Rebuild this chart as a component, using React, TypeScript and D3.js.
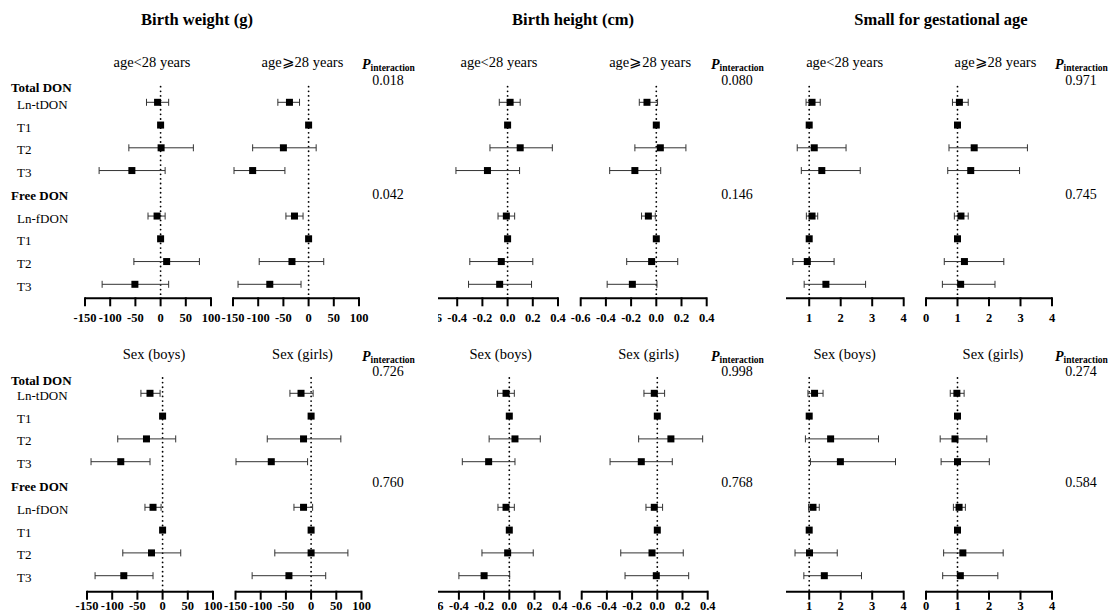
import React from "react";
import { scaleLinear } from "d3";

// rows of each panel (T1 is the reference category, no CI)
const rowLabels = ["Ln-tDON", "T1", "T2", "T3", "Ln-fDON", "T1", "T2", "T3"];
const rowSlots = [0, 1, 2, 3, 5, 6, 7, 8];

// [estimate, lower, upper]
const bwAgeYoung = [[-6, -28, 16], [0], [1, -63, 65], [-57, -122, 9], [-7, -25, 9], [0], [12, -53, 77], [-51, -116, 16]];
const bwAgeOld = [[-38, -61, -18], [0], [-50, -111, 15], [-111, -148, -47], [-28, -45, -11], [0], [-33, -98, 30], [-77, -140, -15]];
const bhAgeYoung = [[0.02, -0.066, 0.1], [0], [0.1, -0.14, 0.355], [-0.16, -0.41, 0.095], [-0.01, -0.076, 0.056], [0], [-0.05, -0.3, 0.2], [-0.063, -0.31, 0.19]];
const bhAgeOld = [[-0.074, -0.135, 0.01], [0], [0.032, -0.17, 0.235], [-0.17, -0.37, 0.035], [-0.063, -0.117, -0.008], [0], [-0.037, -0.235, 0.17], [-0.19, -0.39, 0.005]];
const sgaAgeYoung = [[1.09, 0.9, 1.35], [1], [1.16, 0.62, 2.17], [1.4, 0.75, 2.62], [1.09, 0.91, 1.27], [1], [0.94, 0.48, 1.79], [1.53, 0.84, 2.79]];
const sgaAgeOld = [[1.06, 0.84, 1.34], [1], [1.53, 0.73, 3.22], [1.42, 0.69, 2.97], [1.11, 0.9, 1.34], [1], [1.22, 0.58, 2.47], [1.1, 0.52, 2.19]];

const bwBoys = [[-25, -43, -5], [0], [-32, -89, 26], [-83, -142, -25], [-19, -35, -3], [0], [-22, -79, 36], [-77, -134, -19]];
const bwGirls = [[-20, -42, 4], [0], [-15, -87, 59], [-79, -149, -7], [-15, -34, 3], [0], [0, -72, 73], [-44, -117, 29]];
const bhBoys = [[-0.026, -0.093, 0.04], [0], [0.045, -0.16, 0.246], [-0.164, -0.373, 0.045], [-0.026, -0.09, 0.04], [0], [-0.013, -0.217, 0.19], [-0.2, -0.4, 0.003]];
const bhGirls = [[-0.024, -0.106, 0.058], [0], [0.108, -0.148, 0.36], [-0.127, -0.375, 0.119], [-0.024, -0.09, 0.042], [0], [-0.042, -0.29, 0.206], [-0.008, -0.256, 0.249]];
const sgaBoys = [[1.17, 0.96, 1.44], [1], [1.68, 0.88, 3.2], [1.99, 1.04, 3.74], [1.12, 0.98, 1.32], [1], [1.01, 0.55, 1.89], [1.48, 0.83, 2.66]];
const sgaGirls = [[0.98, 0.77, 1.21], [1], [0.92, 0.45, 1.93], [1.0, 0.48, 2.01], [1.05, 0.87, 1.25], [1], [1.17, 0.56, 2.45], [1.09, 0.53, 2.28]];

const outcomes = ["Birth weight (g)", "Birth height (cm)", "Small for gestational age"];
const ageGroups = ["age<28 years", "age\u2A7E28 years"];
const sexGroups = ["Sex (boys)", "Sex (girls)"];
const pAge = [["0.018", "0.042"], ["0.080", "0.146"], ["0.971", "0.745"]];
const pSex = [["0.726", "0.760"], ["0.998", "0.768"], ["0.274", "0.584"]];

const bwTicks = [-150, -100, -50, 0, 50, 100];
const bhTicks = [-0.6, -0.4, -0.2, 0, 0.2, 0.4];
const sgaTicks = [0, 1, 2, 3, 4];

const FONT = "'Liberation Serif', 'Times New Roman', serif";
const W = 1111;
const H = 615;
const PW = 126;

const scales = [
  { domain: [-150, 100], ticks: bwTicks, fmt: (d) => String(d), ref: 0 },
  { domain: [-0.6, 0.4], ticks: bhTicks, fmt: (d) => d.toFixed(1), ref: 0 },
  { domain: [0, 4], ticks: sgaTicks, fmt: (d) => String(d), ref: 1 },
];

const blocks = [
  {
    groups: ageGroups,
    data: [bwAgeYoung, bwAgeOld, bhAgeYoung, bhAgeOld, sgaAgeYoung, sgaAgeOld],
    p: pAge,
    starts: [85, 233, 432, 580.7, 777.7, 926],
    first: 102.3, last: 284.3, axis: 298.3, dotTop: 86.7, tickText: 321.5,
    total: 92.2, free: 199.8, sub: 67, pHead: 69, p1: 84.5, p2: 198.5,
  },
  {
    groups: sexGroups,
    data: [bwBoys, bwGirls, bhBoys, bhGirls, sgaBoys, sgaGirls],
    p: pSex,
    starts: [87, 235.5, 433.7, 581.7, 777.7, 926],
    first: 393.3, last: 575.7, axis: 591.7, dotTop: 378, tickText: 610,
    total: 384.5, free: 491, sub: 359, pHead: 361, p1: 376, p2: 486.5,
  },
];

const clipLeft = [null, "clip-bh", "clip-sga"];

function Panel({ rows, sc, x0, b, clipId }) {
  const x = scaleLinear().domain(sc.domain).range([x0, x0 + PW]);
  const y = scaleLinear().domain([0, 8]).range([b.first, b.last]);
  return (
    <g clipPath={clipId ? `url(#${clipId})` : undefined}>
      <line x1={x(sc.ref)} x2={x(sc.ref)} y1={b.dotTop} y2={b.axis} stroke="#000"
        strokeWidth={1.8} strokeDasharray="0.01 4.6" strokeLinecap="round" />
      {rows.map((r, i) => {
        const yy = y(rowSlots[i]);
        return (
          <g key={i}>
            {r.length === 3 && (
              <g stroke="#333" strokeWidth={1}>
                <line x1={x(r[1])} x2={x(r[2])} y1={yy} y2={yy} />
                <line x1={x(r[1])} x2={x(r[1])} y1={yy - 3.5} y2={yy + 3.5} />
                <line x1={x(r[2])} x2={x(r[2])} y1={yy - 3.5} y2={yy + 3.5} />
              </g>
            )}
            <rect x={x(r[0]) - 3.5} y={yy - 3.5} width={7} height={7} fill="#000" />
          </g>
        );
      })}
      <line x1={x(sc.domain[0])} x2={x(sc.domain[1])} y1={b.axis} y2={b.axis} stroke="#000" strokeWidth={2} />
      {sc.ticks.map((t) => (
        <g key={t}>
          <line x1={x(t)} x2={x(t)} y1={b.axis - 1} y2={b.axis + 8} stroke="#000" strokeWidth={2} />
          <text x={x(t)} y={b.tickText} textAnchor="middle" fontSize={12.5} fontWeight="bold">
            {sc.fmt(t)}
          </text>
        </g>
      ))}
    </g>
  );
}

export default function App() {
  const titleX = [197, 573, 941];
  const pX = [362, 711, 1055];
  return (
    <svg width={W} height={H}
      style={{ position: "absolute", left: 0, top: 0, background: "#fff", fontFamily: FONT }}>
      <defs>
        <clipPath id="clip-bh"><rect x={438} y={0} width={W} height={H} /></clipPath>
        <clipPath id="clip-sga"><rect x={786} y={0} width={W} height={H} /></clipPath>
      </defs>
      {outcomes.map((t, i) => (
        <text key={t} x={titleX[i]} y={25} textAnchor="middle" fontSize={16.5} fontWeight="bold">{t}</text>
      ))}
      {blocks.map((b, bi) => (
        <g key={bi}>
          <text x={11} y={b.total} fontSize={13} fontWeight="bold">Total DON</text>
          <text x={11} y={b.free} fontSize={13} fontWeight="bold">Free DON</text>
          {rowLabels.map((l, i) => {
            const yy = scaleLinear().domain([0, 8]).range([b.first, b.last])(rowSlots[i]);
            return <text key={i} x={17} y={yy + 6.5} fontSize={13}>{l}</text>;
          })}
          {b.starts.map((x0, pi) => {
            const oi = Math.floor(pi / 2);
            const gi = pi % 2;
            const cx = x0 + PW / 2;
            const clipId = gi === 0 ? clipLeft[oi] : null;
            return (
              <g key={pi}>
                {bi === 0 ? (
                  <text x={cx - 34.5} y={b.sub} fontSize={14.5}>{b.groups[gi]}</text>
                ) : (
                  <text x={cx + 4} y={b.sub} textAnchor="middle" fontSize={14.5}>{b.groups[gi]}</text>
                )}
                <Panel rows={b.data[pi]} sc={scales[oi]} x0={x0} b={b} clipId={clipId} />
              </g>
            );
          })}
          {pX.map((px, k) => (
            <g key={k}>
              <text x={px} y={b.pHead} fontWeight="bold">
                <tspan fontStyle="italic" fontSize={14}>P</tspan>
                <tspan fontSize={9.5} dy={2}>interaction</tspan>
              </text>
              <text x={px + 26} y={b.p1} textAnchor="middle" fontSize={14}>{b.p[k][0]}</text>
              <text x={px + 26} y={b.p2} textAnchor="middle" fontSize={14}>{b.p[k][1]}</text>
            </g>
          ))}
        </g>
      ))}
    </svg>
  );
}
